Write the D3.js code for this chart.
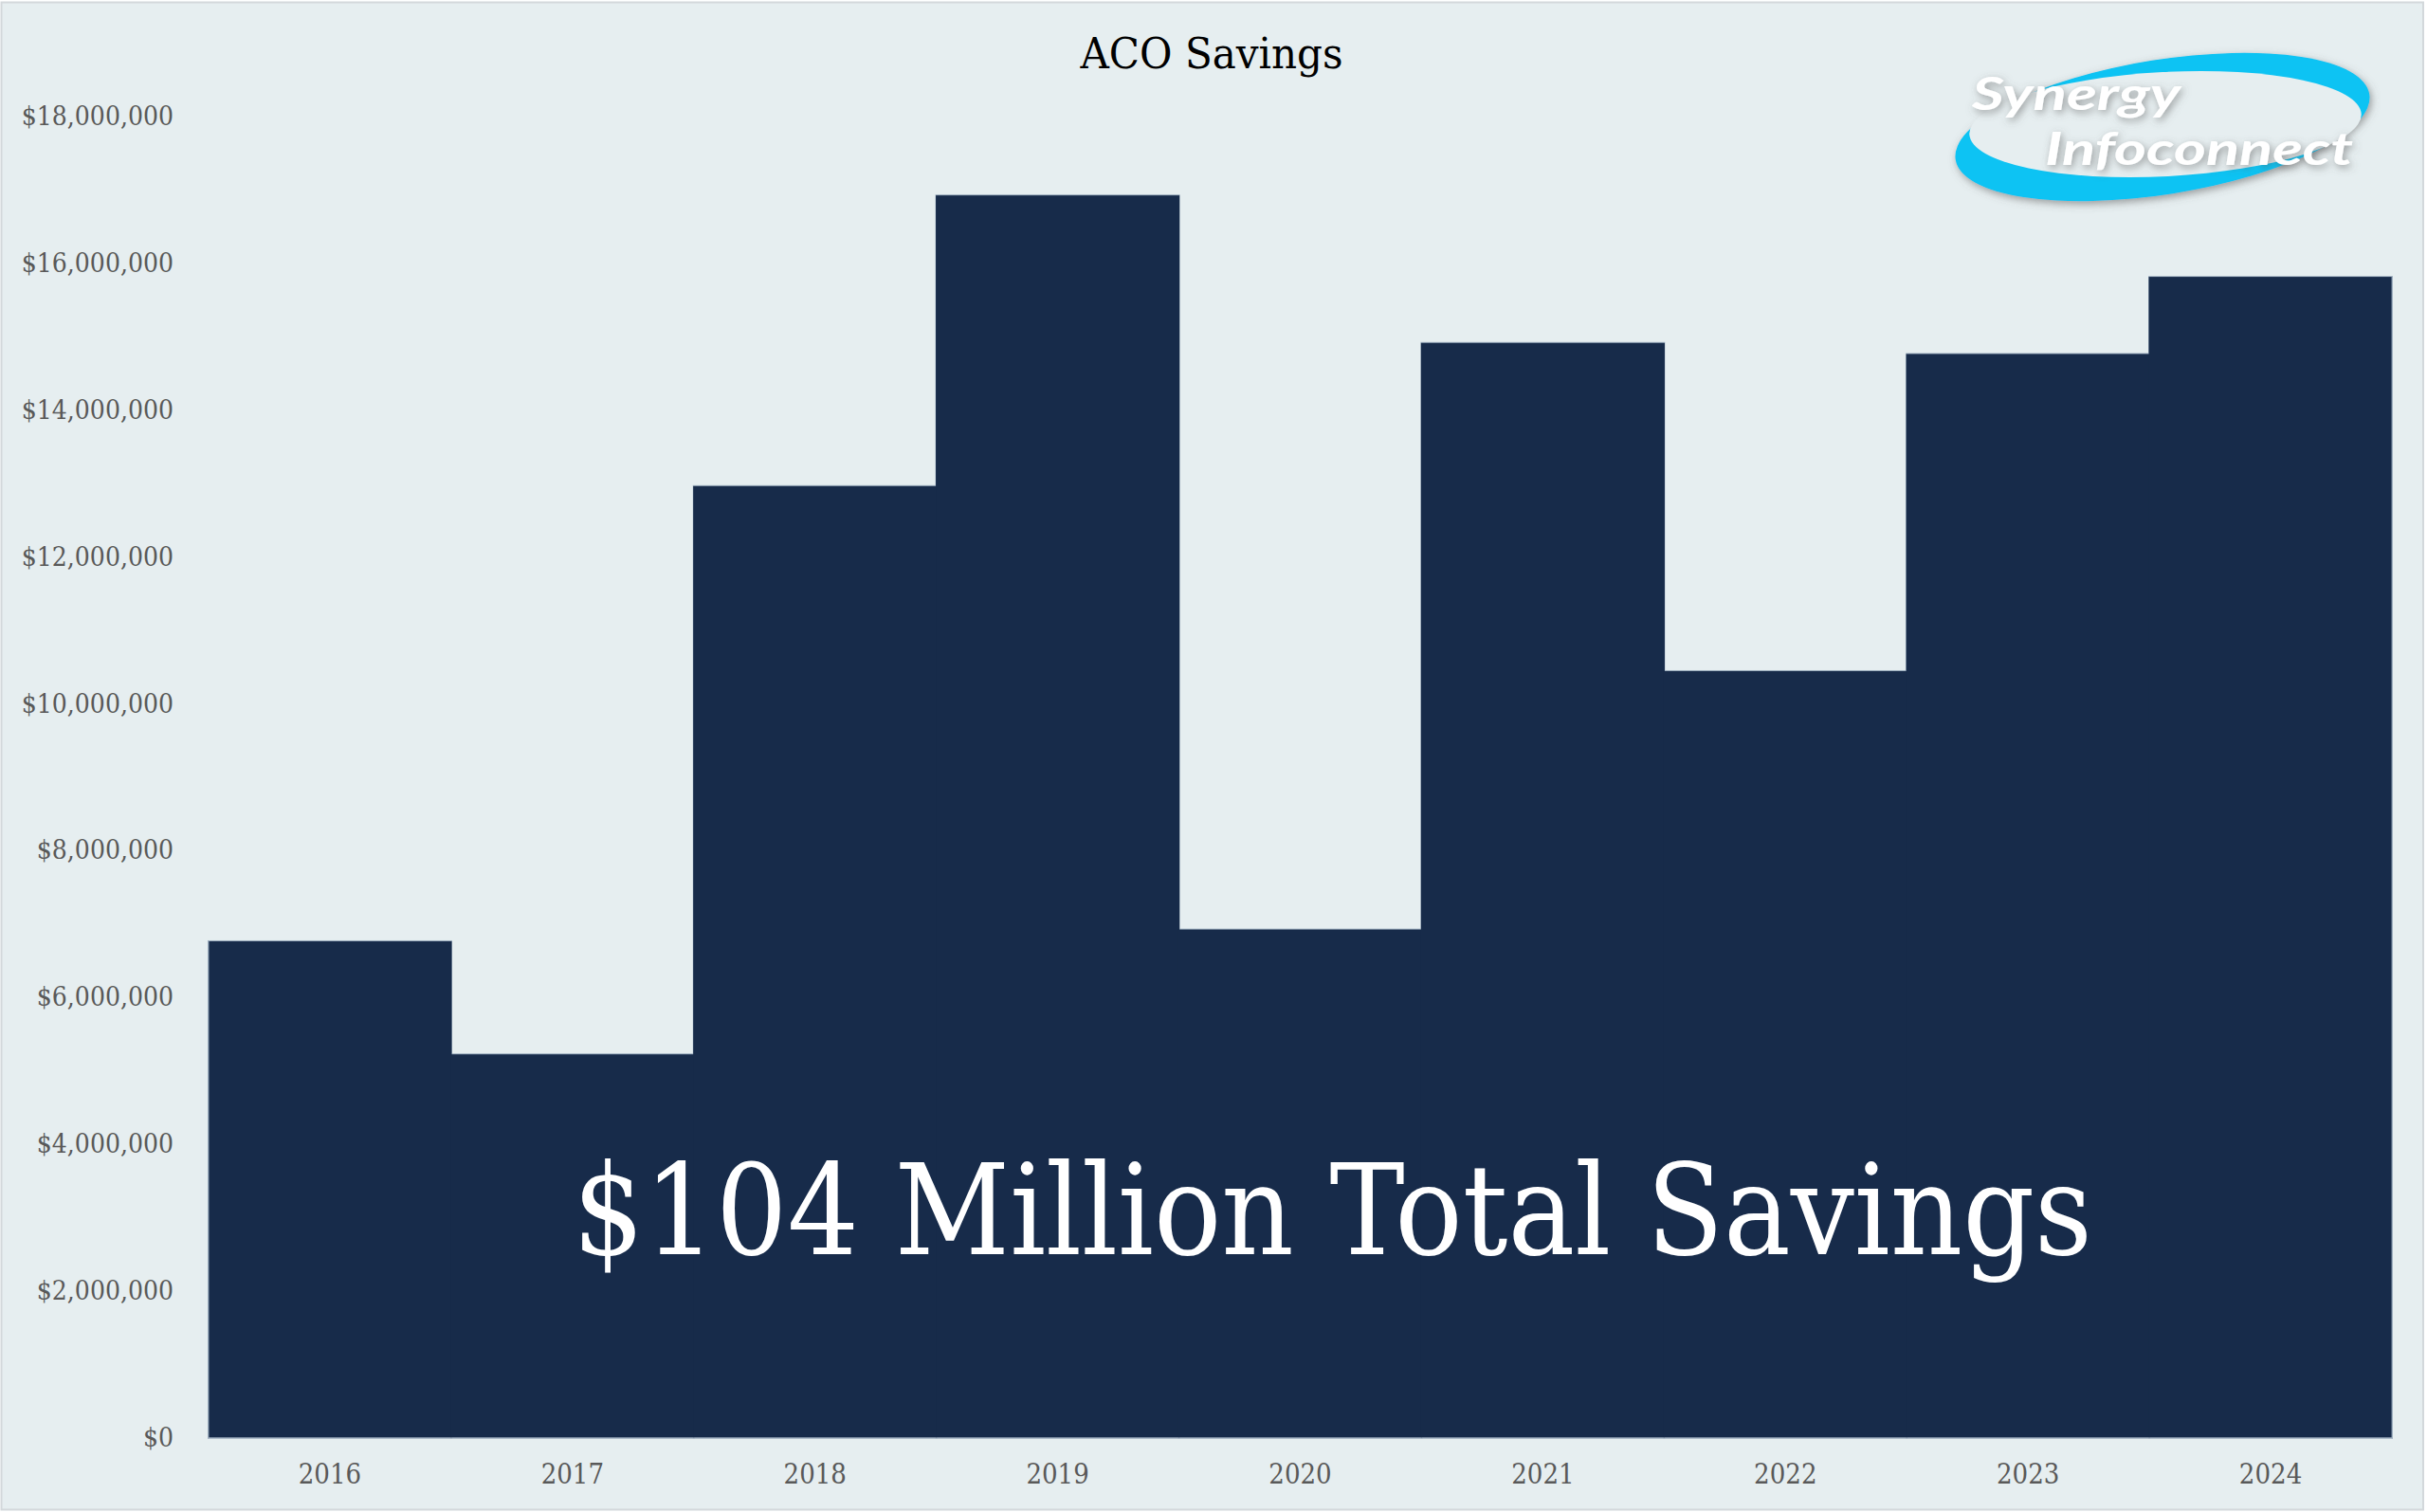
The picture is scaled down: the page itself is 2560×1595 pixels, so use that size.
<!DOCTYPE html>
<html>
<head>
<meta charset="utf-8">
<script src="https://cdn.jsdelivr.net/npm/d3@7"></script>
<style>
  html, body { margin: 0; padding: 0; background: #ffffff; }
  svg { display: block; }
</style>
</head>
<body>
<svg id="chart" width="2560" height="1595"></svg>
<script>
// ---- data ----
const years = ["2016", "2017", "2018", "2019", "2020", "2021", "2022", "2023", "2024"];
const savings = [6760000, 5220000, 12960000, 16920000, 6920000, 14910000, 10440000, 14760000, 15810000];
const yTicks = [0, 2000000, 4000000, 6000000, 8000000, 10000000, 12000000, 14000000, 16000000, 18000000];
const chartTitle = "ACO Savings";
const totalNote = "$104 Million Total Savings";
const logoLines = ["Synergy", "Infoconnect"];

const SERIF = "'DejaVu Serif Condensed', 'DejaVu Serif', serif";
const svg = d3.select("#chart");

// background + frame
svg.append("rect").attr("x", 1.5).attr("y", 2.5).attr("width", 2554.5).attr("height", 1590)
  .attr("fill", "#e6eef0").attr("stroke", "#d3d8db").attr("stroke-width", 2);

const x = d3.scaleBand().domain(years).range([220, 2523]).padding(0);
const y = d3.scaleLinear().domain([0, 18000000]).range([1516.5, 122.5]);

const data = years.map((yr, i) => ({ year: yr, value: savings[i] }));

// bars: outline pass, then fill pass so only exposed edges keep a light line
const gBars = svg.append("g");
gBars.selectAll("rect.outline").data(data).join("rect").attr("class", "outline")
  .attr("x", d => x(d.year)).attr("width", x.bandwidth())
  .attr("y", d => y(d.value)).attr("height", d => y(0) - y(d.value))
  .attr("fill", "#172b4a").attr("stroke", "#9fb0c0").attr("stroke-width", 2);
gBars.selectAll("rect.fill").data(data).join("rect").attr("class", "fill")
  .attr("x", d => x(d.year) - 0.6).attr("width", x.bandwidth() + 1.2)
  .attr("y", d => y(d.value)).attr("height", d => y(0) - y(d.value))
  .attr("fill", "#172b4a");
gBars.selectAll("rect.edge").data([data[0], data[data.length - 1]]).join("rect").attr("class", "edge")
  .attr("x", (d, i) => i === 0 ? x(d.year) - 1 : x(d.year) + x.bandwidth() - 0.4)
  .attr("width", 1.4)
  .attr("y", d => y(d.value)).attr("height", d => y(0) - y(d.value) + 1)
  .attr("fill", "#9fb0c0");
gBars.selectAll("rect.base").data([0]).join("rect").attr("class", "base")
  .attr("x", x.range()[0] - 1).attr("width", x.range()[1] - x.range()[0] + 2)
  .attr("y", y(0)).attr("height", 1).attr("fill", "#9fb0c0");

// axes
const yAxis = svg.append("g").attr("transform", `translate(${x.range()[0]},0)`)
  .call(d3.axisLeft(y).tickValues(yTicks).tickFormat(d3.format("$,")).tickSize(0).tickPadding(37));
yAxis.select(".domain").remove();
yAxis.selectAll("text").attr("font-family", SERIF).attr("font-size", 28).attr("fill", "#595959");

const xAxis = svg.append("g").attr("transform", `translate(0,${y(0)})`)
  .call(d3.axisBottom(x).tickSize(0).tickPadding(28));
xAxis.select(".domain").remove();
xAxis.selectAll("text").attr("font-family", SERIF).attr("font-size", 29).attr("fill", "#595959");

// title
svg.append("text").attr("x", 1278).attr("y", 72).attr("text-anchor", "middle")
  .attr("font-family", SERIF).attr("font-size", 44).attr("fill", "#000")
  .attr("textLength", 277).attr("lengthAdjust", "spacingAndGlyphs")
  .text(chartTitle);

// total annotation
svg.append("text").attr("x", 604).attr("y", 1323)
  .attr("font-family", SERIF).attr("font-size", 132).attr("fill", "#ffffff")
  .attr("textLength", 1603).attr("lengthAdjust", "spacingAndGlyphs")
  .text(totalNote);

// logo
const defs = svg.append("defs");
const f = defs.append("filter").attr("id", "shadow").attr("x", "-20%").attr("y", "-30%").attr("width", "140%").attr("height", "160%");
f.append("feDropShadow").attr("dx", 2).attr("dy", 3).attr("stdDeviation", 4).attr("flood-color", "#555").attr("flood-opacity", 0.55);

const logo = svg.append("g");
const ring = logo.append("g").attr("filter", "url(#shadow)");
ring.append("ellipse").attr("cx", 0).attr("cy", 0).attr("rx", 221).attr("ry", 71)
  .attr("transform", "translate(2281,134) rotate(-9)").attr("fill", "#0cc3f3");
logo.append("ellipse").attr("cx", 0).attr("cy", 0).attr("rx", 207).attr("ry", 55)
  .attr("transform", "translate(2284,131) rotate(-3)").attr("fill", "#e6eef0");
const lt = logo.append("text").attr("filter", "url(#shadow)")
  .attr("font-family", "Lato, 'Open Sans', sans-serif").attr("font-weight", 700)
  .attr("font-style", "italic").attr("fill", "#ffffff").attr("font-size", 48);
lt.append("tspan").attr("x", 2080).attr("y", 116)
  .attr("textLength", 220).attr("lengthAdjust", "spacingAndGlyphs").text(logoLines[0]);
lt.append("tspan").attr("x", 2157).attr("y", 174)
  .attr("textLength", 325).attr("lengthAdjust", "spacingAndGlyphs").text(logoLines[1]);
</script>
</body>
</html>
